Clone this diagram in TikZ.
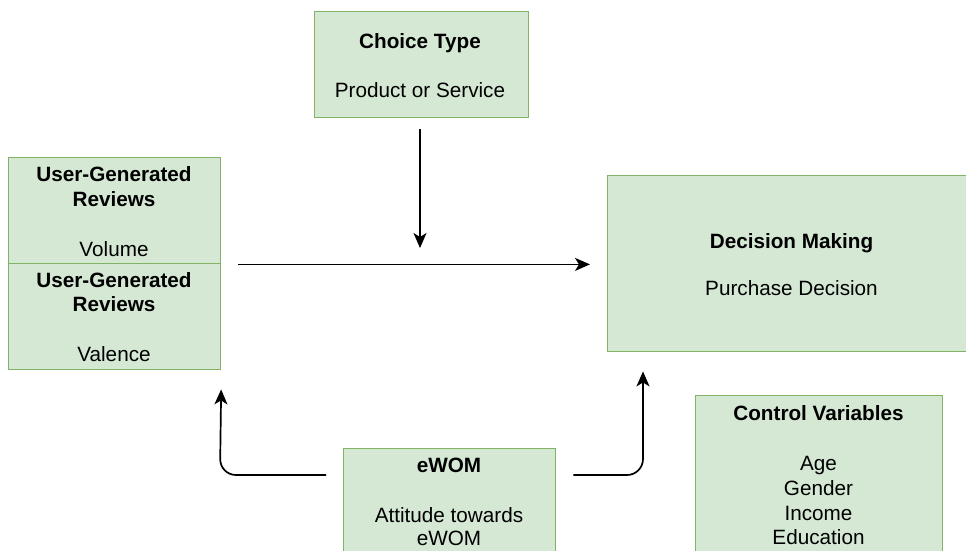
\documentclass[tikz,border=0pt]{standalone}
\usepackage{fontspec}
\setmainfont{Liberation Sans}
\usetikzlibrary{arrows.meta}
\definecolor{boxfill}{HTML}{D5E8D4}
\definecolor{boxline}{HTML}{82B366}
\begin{document}
\begin{tikzpicture}[x=1pt,y=-1pt,
  box/.style={draw=boxline,fill=boxfill,line width=1.4pt,rectangle,inner sep=0pt,anchor=north west},
  txt/.style={anchor=base,inner sep=0pt,font=\fontsize{20.7}{24.5}\selectfont},
  link/.style={line width=1.7pt,-{Stealth[length=15pt,width=13pt,inset=4pt]},rounded corners=16pt}]
\useasboundingbox (0,0) rectangle (966,550);

% boxes
\node[box,minimum width=214pt,minimum height=106pt] (choice) at (314,10.7) {};
\node[box,minimum width=212pt,minimum height=106pt] (ugrA) at (8,157) {};
\node[box,minimum width=212pt,minimum height=106pt] (ugrB) at (8,263) {};
\node[box,minimum width=369pt,minimum height=176pt] (decision) at (607,175) {};
\node[box,minimum width=247pt,minimum height=170pt] (control) at (695,395) {};
\node[box,minimum width=212pt,minimum height=115pt] (ewom) at (343,448) {};

% texts
\node[txt] (choiceT) at (420,48) {\textbf{Choice Type}};
\node[txt] (choiceS) at (420,97) {Product or Service};
\node[txt] (ugrA1) at (114,181.5) {\textbf{User-Generated}};
\node[txt] (ugrA2) at (114,206) {\textbf{Reviews}};
\node[txt] (ugrA3) at (114,256) {Volume};
\node[txt] (ugrB1) at (114,287) {\textbf{User-Generated}};
\node[txt] (ugrB2) at (114,311) {\textbf{Reviews}};
\node[txt] (ugrB3) at (114,361) {Valence};
\node[txt] (decT) at (791.5,248) {\textbf{Decision Making}};
\node[txt] (decS) at (791.5,295) {Purchase Decision};
\node[txt] (ctrlT) at (818.5,420) {\textbf{Control Variables}};
\node[txt] (ctrl1) at (818.5,470) {Age};
\node[txt] (ctrl2) at (818.5,495) {Gender};
\node[txt] (ctrl3) at (818.5,520) {Income};
\node[txt] (ctrl4) at (818.5,544) {Education};
\node[txt] (ewomT) at (449,472) {\textbf{eWOM}};
\node[txt] (ewom1) at (449,522) {Attitude towards};
\node[txt] (ewom2) at (449,545) {eWOM};

% connectors
\coordinate (midTip) at (420,248);
\draw[link,shorten <=11pt] (choice.south -| midTip) -- (midTip);
\draw[link,shorten <=17pt,shorten >=17pt] (ugrA.south east) -- (ugrA.south east -| decision.west);
\draw[link,shorten <=17pt,shorten >=19pt] (ewom.west |- 0,475) -- (220,475) -- (ugrB.south east);
\draw[link,shorten <=17pt,shorten >=19pt] (ewom.east |- 0,475) -- (643,475) -- (decision.south west -| 643,0);
\end{tikzpicture}
\end{document}
